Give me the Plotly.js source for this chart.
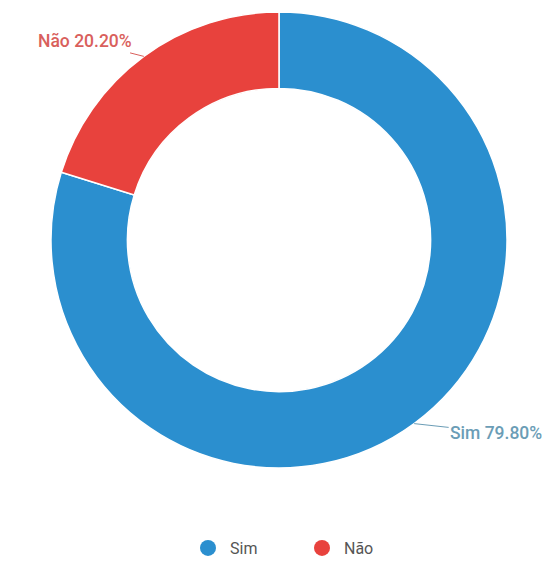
<!DOCTYPE html>
<html>
<head>
<meta charset="utf-8">
<script src="https://cdn.plot.ly/plotly-3.0.1.min.js"></script>
<style>html,body{margin:0;padding:0;background:#fff;}</style>
</head>
<body>
<div id="chart" style="width:548px;height:587px;"></div>
<script>
const categories = ["Sim", "Não"];
const values = [79.80, 20.20];
const colors = ["#2b8fcf", "#e8423d"];
const labelColors = ["#6b9db6", "#d9605c"];

const W = 548, H = 587;
const cx = 279, cy = 240, R = 228;
const domX = [(cx - R) / W, (cx + R) / W];
const domY = [1 - (cy + R) / H, 1 - (cy - R) / H];

const pie = {
  type: "pie",
  labels: categories,
  values: values,
  sort: false,
  direction: "clockwise",
  rotation: 0,
  hole: 0.665,
  textinfo: "none",
  hoverinfo: "label+percent",
  marker: { colors: colors, line: { color: "#ffffff", width: 1.5 } },
  domain: { x: domX, y: domY },
  showlegend: false
};

const legendTraces = categories.map((c, i) => ({
  type: "scatter",
  mode: "markers",
  x: [null], y: [null],
  name: c,
  marker: { color: colors[i], size: 16, symbol: "circle" },
  showlegend: true,
  hoverinfo: "skip"
}));

// outside labels with leader lines, derived from the data
const total = values.reduce((a, b) => a + b, 0);
const offsets = [[82, 9], [-59, -15]];
let cum = 0;
const annotations = values.map((v, i) => {
  const mid = (cum + v / 2) / total * 2 * Math.PI;
  cum += v;
  const px = cx + R * Math.sin(mid);
  const py = cy - R * Math.cos(mid);
  return {
    x: px / W, y: 1 - py / H, xref: "paper", yref: "paper",
    text: categories[i] + " " + v.toFixed(2) + "%",
    showarrow: true, arrowhead: 0, arrowwidth: 1, arrowcolor: labelColors[i],
    ax: offsets[i][0], ay: offsets[i][1],
    font: { family: "Roboto, sans-serif", size: 17.5, weight: 500, color: labelColors[i] }
  };
});

const layout = {
  width: W, height: H,
  margin: { l: 0, r: 0, t: 0, b: 0 },
  paper_bgcolor: "#ffffff",
  plot_bgcolor: "#ffffff",
  xaxis: { visible: false, range: [0, 1], domain: [0, 0.01] },
  yaxis: { visible: false, range: [0, 1], domain: [0, 0.01] },
  showlegend: true,
  legend: {
    orientation: "h", x: 0.5 + 26 / W, xanchor: "center", y: (H - 548) / H, yanchor: "middle",
    font: { family: "Roboto, sans-serif", size: 16, color: "#555555" },
    itemsizing: "trace", bgcolor: "rgba(0,0,0,0)",
    entrywidth: 65, entrywidthmode: "pixels", itemwidth: 34
  },
  annotations: annotations
};

Plotly.newPlot("chart", [pie].concat(legendTraces), layout, { displayModeBar: false, staticPlot: true });
</script>
</body>
</html>
